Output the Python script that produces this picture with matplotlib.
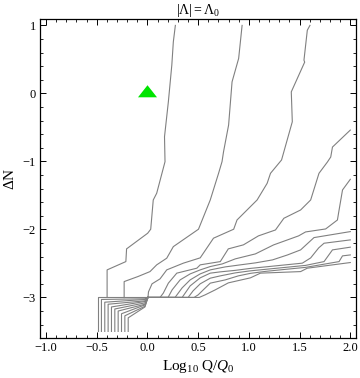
import matplotlib
matplotlib.use("Agg")
import matplotlib.pyplot as plt

plt.rcParams['font.family'] = 'Liberation Serif'
plt.rcParams['mathtext.fontset'] = 'custom'
plt.rcParams['mathtext.rm'] = 'Liberation Serif'
plt.rcParams['mathtext.it'] = 'Liberation Serif:italic'

# upper contours ending on the top edge
l1_x = [0.275, 0.255, 0.240, 0.206, 0.168, 0.173, 0.091, 0.057, 0.032, 0.002, -0.206, -0.213, -0.398, -0.398]
l1_y = [1.0, 0.758, 0.416, -0.123, -0.637, -1.004, -1.468, -1.567, -1.997, -2.056, -2.286, -2.473, -2.595, -2.999]
l2_x = [0.933, 0.899, 0.834, 0.800, 0.750, 0.735, 0.701, 0.619, 0.503, 0.255, 0.190, 0.091, 0.025, -0.094, -0.230, -0.230]
l2_y = [1.0, 0.514, 0.170, -0.465, -0.858, -1.004, -1.175, -1.567, -1.997, -2.253, -2.423, -2.521, -2.620, -2.693, -2.767, -3.003]
l3_x = [1.602, 1.576, 1.543, 1.550, 1.418, 1.428, 1.322, 1.213, 1.180, 1.081, 0.883, 0.850, 0.651, 0.520, 0.354, 0.190, 0.124, 0.045, 0.010, 0.005]
l3_y = [1.0, 0.929, 0.489, 0.460, 0.023, -0.417, -0.979, -1.175, -1.322, -1.567, -1.861, -1.997, -2.129, -2.418, -2.496, -2.595, -2.727, -2.800, -2.918, -3.0]

# contours ending on the right edge
l4_x = [2.0, 1.824, 1.807, 1.774, 1.691, 1.609, 1.510, 1.345, 1.262, 1.094, 0.946, 0.797, 0.718, 0.520, 0.487, 0.289, 0.206, 0.156, 0.124, 0.005]
l4_y = [-0.539, -0.789, -0.935, -1.009, -1.175, -1.567, -1.714, -1.836, -2.008, -2.095, -2.227, -2.286, -2.473, -2.521, -2.570, -2.643, -2.790, -2.937, -3.0, -3.0]
l5_x = [2.0, 1.923, 1.886, 1.873, 1.757, 1.559, 1.490, 1.243, 1.064, 0.866, 0.738, 0.619, 0.520, 0.421, 0.322, 0.243, 0.203, 0.005]
l5_y = [-1.263, -1.420, -1.743, -1.861, -1.993, -2.037, -2.095, -2.228, -2.360, -2.433, -2.507, -2.546, -2.595, -2.654, -2.742, -2.889, -3.0, -3.0]
l6_x = [2.0, 1.642, 1.510, 1.381, 1.233, 1.064, 0.916, 0.767, 0.619, 0.520, 0.421, 0.342, 0.272, 0.005]
l6_y = [-2.032, -2.120, -2.301, -2.375, -2.448, -2.492, -2.521, -2.551, -2.595, -2.654, -2.742, -2.859, -3.0, -3.0]
l7_x = [2.0, 1.741, 1.688, 1.609, 1.527, 1.361, 1.163, 1.015, 0.866, 0.718, 0.619, 0.520, 0.421, 0.342, 0.005]
l7_y = [-2.154, -2.203, -2.272, -2.419, -2.496, -2.521, -2.551, -2.573, -2.602, -2.624, -2.643, -2.712, -2.830, -3.0, -3.0]
l8_x = [2.0, 1.824, 1.741, 1.559, 1.361, 1.163, 1.015, 0.866, 0.718, 0.619, 0.520, 0.450, 0.401, 0.005]
l8_y = [-2.261, -2.301, -2.473, -2.529, -2.558, -2.587, -2.609, -2.639, -2.683, -2.717, -2.800, -2.903, -3.0, -3.0]
l9_x = [2.0, 1.923, 1.889, 1.559, 1.361, 1.163, 1.015, 0.896, 0.767, 0.619, 0.550, 0.500, 0.460, 0.005]
l9_y = [-2.375, -2.389, -2.473, -2.558, -2.587, -2.617, -2.646, -2.683, -2.742, -2.790, -2.889, -2.962, -3.0, -3.0]
l10_x = [2.0, 1.576, 1.510, 1.114, 1.015, 0.797, 0.668, 0.569, 0.510, 0.005]
l10_y = [-2.487, -2.570, -2.620, -2.643, -2.712, -2.786, -2.889, -2.962, -3.0, -3.0]

# bottom bundle: foot x, corner y, y where the step meets x=-0.025
foot_x = [-0.487, -0.454, -0.421, -0.388, -0.355, -0.322, -0.289, -0.256, -0.223, -0.190]
corner_y = [-3.00, -3.03, -3.07, -3.10, -3.14, -3.17, -3.20, -3.24, -3.27, -3.30]
step_y = [-3.00, -3.02, -3.03, -3.05, -3.06, -3.08, -3.10, -3.11, -3.13, -3.14]
meet_x = [-0.025, 0.005]
meet_y = -3.0
bottom_y = -3.5

marker_x = [0.0]
marker_y = [0.0]

fig = plt.figure(figsize=(3.6, 3.78), dpi=100)
ax = fig.add_axes([0.111, 0.107, 0.879, 0.842])

lc = '#808080'
lw = 0.8
for xs, ys in [(l1_x, l1_y), (l2_x, l2_y), (l3_x, l3_y), (l4_x, l4_y), (l5_x, l5_y),
               (l6_x, l6_y), (l7_x, l7_y), (l8_x, l8_y), (l9_x, l9_y), (l10_x, l10_y)]:
    ax.plot(xs, ys, color=lc, lw=lw, solid_joinstyle='miter')

for fx, cy, sy in zip(foot_x, corner_y, step_y):
    ax.plot([fx, fx, meet_x[0], meet_x[1]], [bottom_y, cy, sy, meet_y], color=lc, lw=lw)

tri = [(-1, -0.4), (1, -0.4), (0, 0.87), (-1, -0.4)]
ax.plot(marker_x, marker_y, linestyle='none', marker=tri, markersize=13.7,
        color='#00e400', markeredgewidth=0)

ax.set_xlim(-1.06, 2.06)
ax.set_ylim(-3.59, 1.09)
ax.set_xticks([-1.0, -0.5, 0.0, 0.5, 1.0, 1.5, 2.0])
ax.set_xticklabels(['\u22121.0', '\u22120.5', '0.0', '0.5', '1.0', '1.5', '2.0'])
ax.set_yticks([-3, -2, -1, 0, 1])
ax.set_yticklabels(['\u22123', '\u22122', '\u22121', '0', '1'])
ax.set_xticks([v / 10 for v in range(-10, 21)], minor=True)
ax.set_yticks([v / 5 for v in range(-17, 6)], minor=True)
ax.tick_params(which='both', direction='in', top=True, right=True, labelsize=9, pad=3)
ax.tick_params(which='major', length=4, width=0.7)
ax.tick_params(which='minor', length=2, width=0.6)
for s in ax.spines.values():
    s.set_linewidth(0.9)

ax.set_title(r'$|\Lambda|{=}\Lambda_0$', fontsize=10, pad=3)
ax.set_ylabel(r'$\Delta$N', fontsize=11, labelpad=4)
ax.set_xlabel(r'Log$_{10}$ Q/$Q_0$', fontsize=11, labelpad=3)

fig.savefig('out.png', dpi=100)
